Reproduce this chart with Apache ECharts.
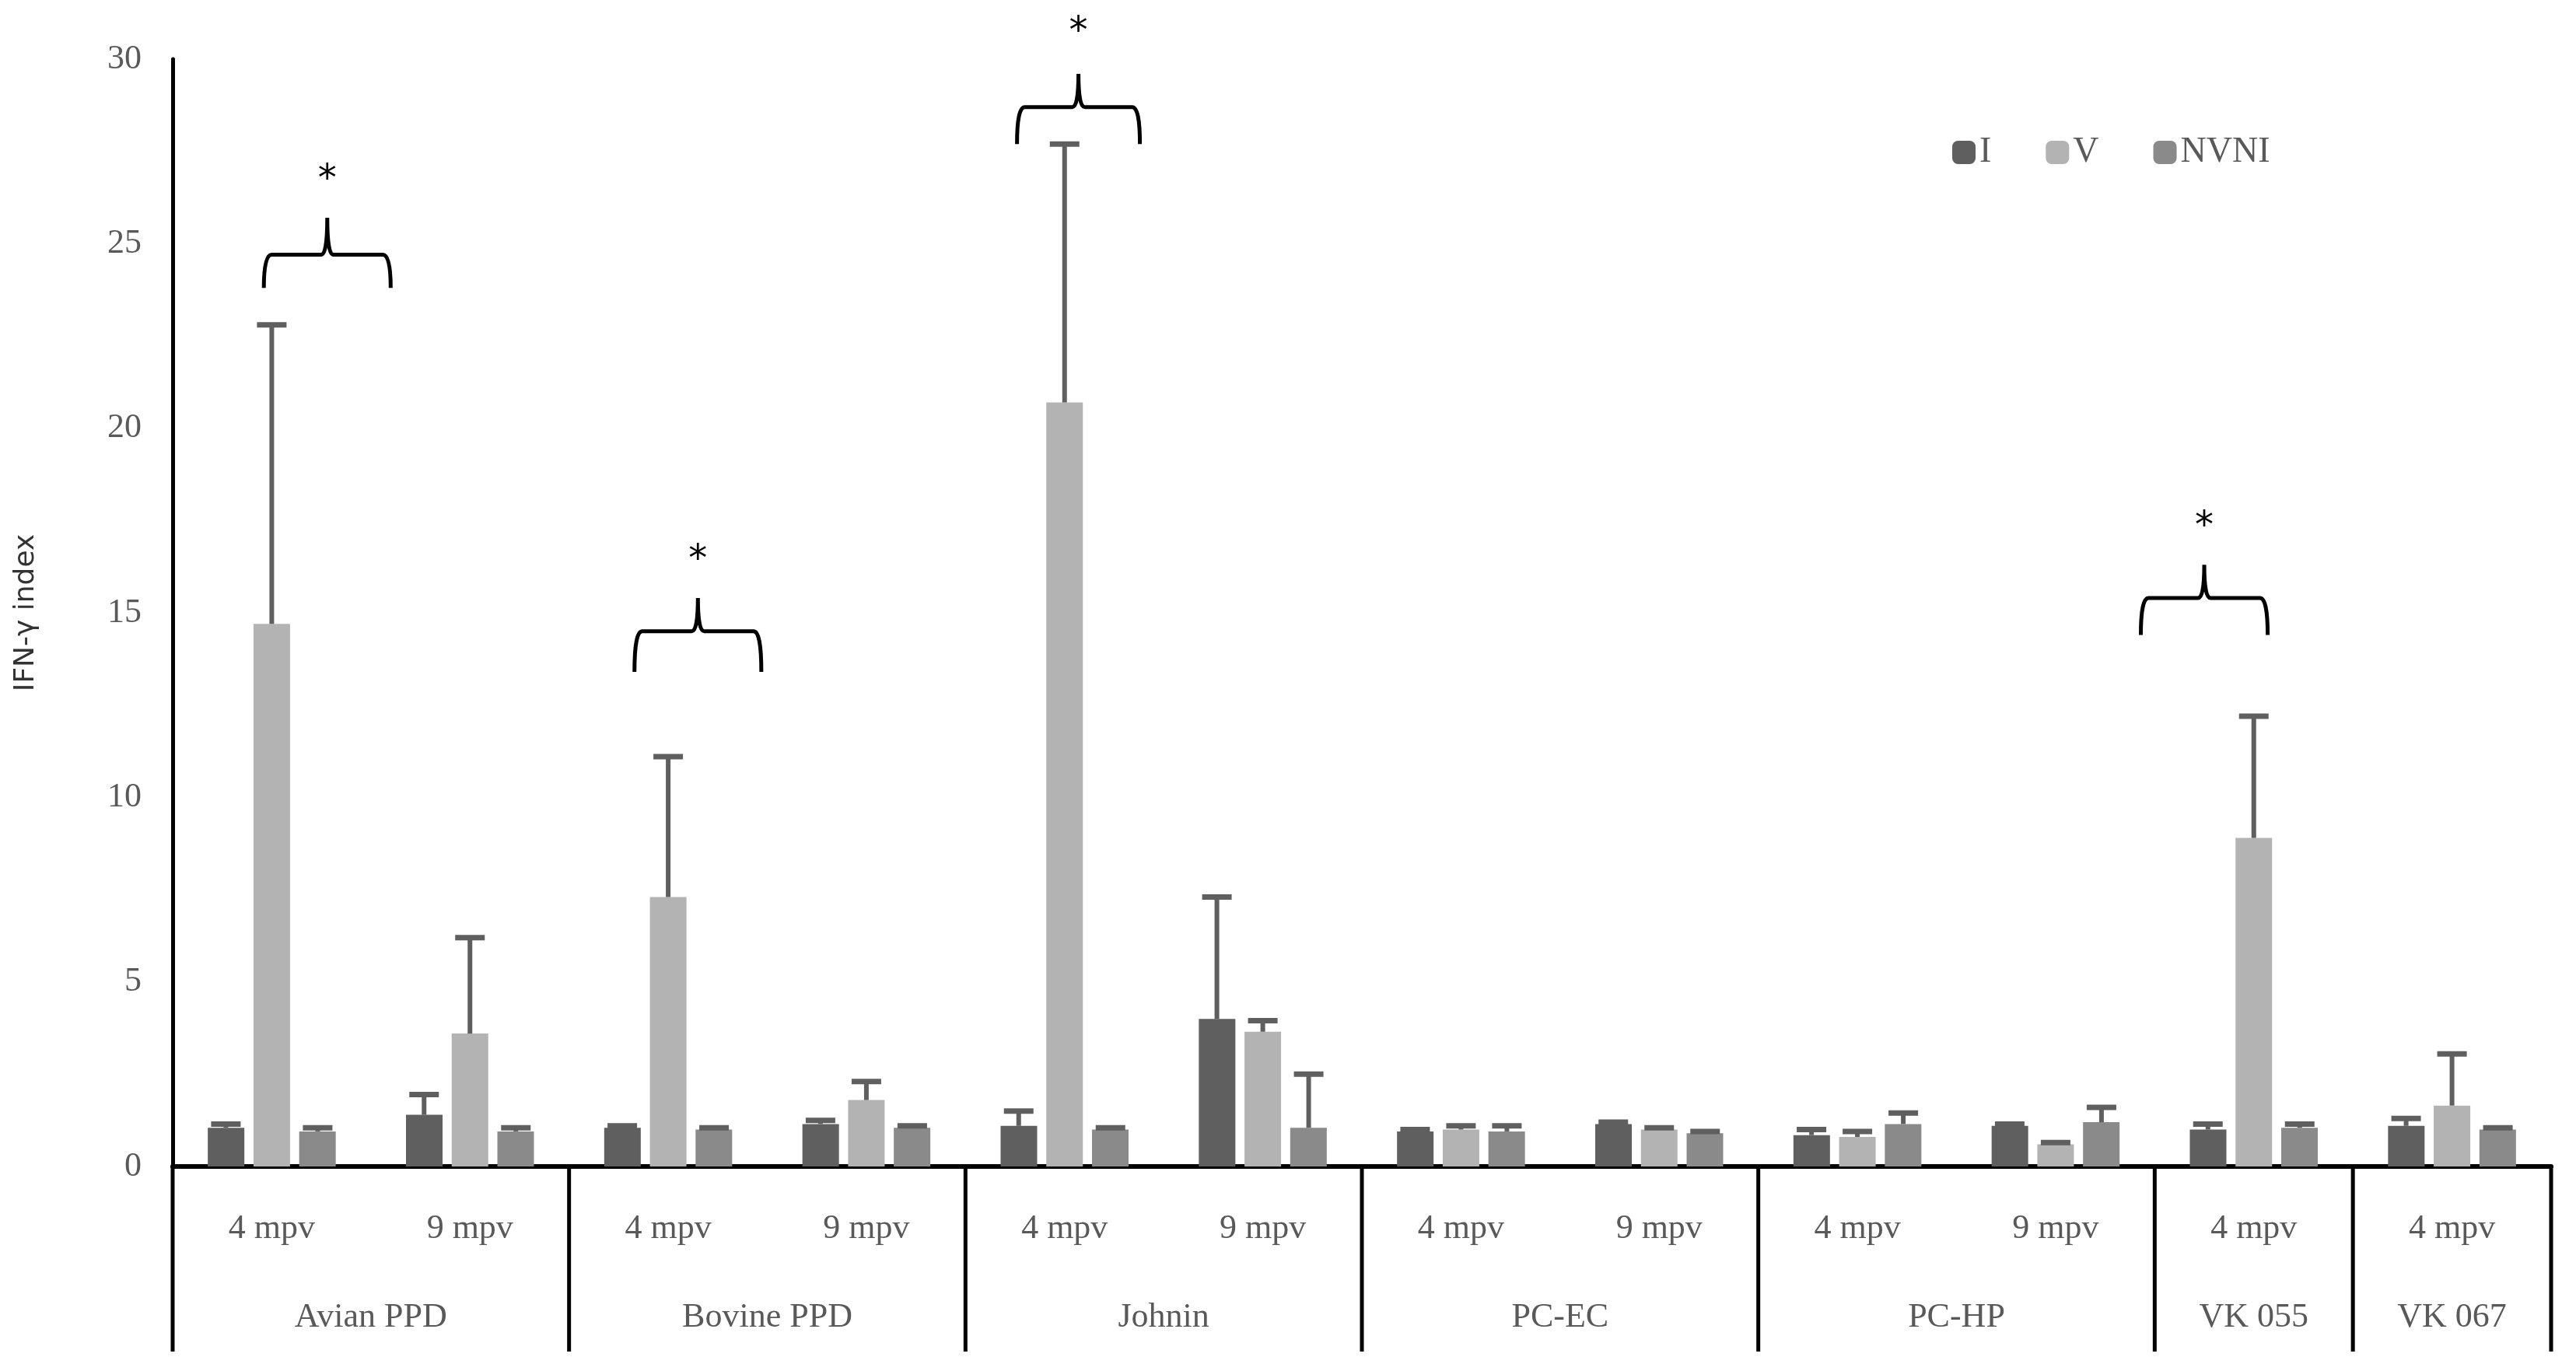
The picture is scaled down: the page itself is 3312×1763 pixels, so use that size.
<!DOCTYPE html>
<html>
<head>
<meta charset="utf-8">
<script src="https://cdn.jsdelivr.net/npm/echarts@6/dist/echarts.min.js"></script>
<style>html,body{margin:0;padding:0;background:#fff}#mybox{width:3312px;height:1763px}</style>
</head>
<body>
<div id="mybox"></div>
<script>
// data
var timepoints = ['4 mpv','9 mpv','4 mpv','9 mpv','4 mpv','9 mpv','4 mpv','9 mpv','4 mpv','9 mpv','4 mpv','4 mpv'];
var groupNames = ['Avian PPD','Bovine PPD','Johnin','PC-EC','PC-HP','VK 055','VK 067'];
var groupCenters = [1, 3, 5, 7, 9, 10.5, 11.5];
var groupBounds = [0, 2, 4, 6, 8, 10, 11, 12];

var valI    = [1.05, 1.4, 1.05, 1.15, 1.1, 4.0, 0.95, 1.15, 0.85, 1.1, 1.0, 1.1];
var errI    = [1.15, 1.95, 1.1, 1.25, 1.5, 7.3, 1.0, 1.2, 1.0, 1.15, 1.15, 1.3];
var valV    = [14.7, 3.6, 7.3, 1.8, 20.7, 3.65, 1.0, 1.0, 0.8, 0.6, 8.9, 1.65];
var errV    = [22.8, 6.2, 11.1, 2.3, 27.7, 3.95, 1.1, 1.05, 0.95, 0.65, 12.2, 3.05];
var valN    = [0.95, 0.95, 1.0, 1.05, 1.0, 1.05, 0.95, 0.9, 1.15, 1.2, 1.05, 1.0];
var errN    = [1.05, 1.05, 1.05, 1.1, 1.05, 2.5, 1.1, 0.95, 1.45, 1.6, 1.15, 1.05];

// significance brackets (x in category units on value axis)
var brLeft  = [0.46, 2.33, 4.26, 9.93];
var brRight = [1.10, 2.97, 4.88, 10.57];
var brBase  = [23.8, 13.4, 27.7, 14.4];
var brMid   = [24.7, 14.5, 28.7, 15.4];
var brTip   = [25.7, 15.4, 29.6, 16.3];
var brStar  = [26.7, 16.4, 30.7, 17.3];

var colors = ['#5f5f5f', '#b3b3b3', '#8a8a8a'];
var barW = 47, barGapPx = 12;
var serif = 'Liberation Serif';

var mycharts = echarts.init(document.getElementById('mybox'));

function errSeries(vals, errs, idx) {
    return {
        type: 'custom',
        xAxisIndex: 0,
        z: 3,
        data: vals.map(function (v, i) { return [i, v, errs[i]]; }),
        renderItem: function (params, api) {
            var p0 = api.coord([api.value(0), api.value(1)]);
            var p1 = api.coord([api.value(0), api.value(2)]);
            var x = p0[0] + (idx - 1) * (barW + barGapPx);
            return {
                type: 'group',
                children: [
                    { type: 'line', shape: { x1: x, y1: p0[1], x2: x, y2: p1[1] }, style: { stroke: '#5f5f5f', lineWidth: 6 } },
                    { type: 'line', shape: { x1: x - 19, y1: p1[1], x2: x + 19, y2: p1[1] }, style: { stroke: '#5f5f5f', lineWidth: 7 } }
                ]
            };
        }
    };
}

var optionObj = {
    animation: false,
    textStyle: { fontFamily: serif },
    grid: { left: 222, right: 32, top: 76, bottom: 263 },
    legend: {
        left: 2505, top: 168,
        itemWidth: 30, itemHeight: 30, itemGap: 70,
        textStyle: { fontSize: 46, color: '#595959', fontFamily: serif },
        data: ['I', 'V', 'NVNI']
    },
    xAxis: [
        {
            type: 'category',
            data: timepoints,
            axisLine: { lineStyle: { color: '#000', width: 6 } },
            axisTick: { show: false },
            axisLabel: { fontSize: 44, color: '#595959', margin: 58, fontFamily: serif }
        },
        {
            type: 'value', min: 0, max: 12, interval: 0.5,
            position: 'bottom',
            axisLine: { show: false }, axisTick: { show: false }, splitLine: { show: false },
            axisLabel: {
                fontSize: 44, color: '#595959', margin: 172, fontFamily: serif,
                showMinLabel: true, showMaxLabel: true,
                formatter: function (v) {
                    var k = groupCenters.indexOf(v);
                    return k >= 0 ? groupNames[k] : '';
                }
            }
        }
    ],
    yAxis: {
        type: 'value', min: 0, max: 30, interval: 5,
        name: 'IFN-γ index', nameLocation: 'middle', nameGap: 170,
        nameTextStyle: { fontSize: 36, color: '#333', fontFamily: 'DejaVu Sans' },
        axisLine: { show: true, lineStyle: { color: '#000', width: 5 } },
        axisTick: { show: false },
        splitLine: { show: false },
        axisLabel: { fontSize: 44, color: '#595959', margin: 40, fontFamily: serif }
    },
    series: [
        { name: 'I', type: 'bar', data: valI, barWidth: barW, barGap: '25%', itemStyle: { color: colors[0] } },
        { name: 'V', type: 'bar', data: valV, barWidth: barW, barGap: '25%', itemStyle: { color: colors[1] } },
        { name: 'NVNI', type: 'bar', data: valN, barWidth: barW, barGap: '25%', itemStyle: { color: colors[2] } },
        errSeries(valI, errI, 0),
        errSeries(valV, errV, 1),
        errSeries(valN, errN, 2),
        {
            // table separators below the axis
            type: 'custom', xAxisIndex: 1, clip: false, silent: true,
            data: groupBounds.map(function (b) { return [b, 0]; }),
            renderItem: function (params, api) {
                var p = api.coord([api.value(0), 0]);
                return { type: 'line', shape: { x1: p[0], y1: p[1], x2: p[0], y2: p[1] + 238 }, style: { stroke: '#000', lineWidth: 5 } };
            }
        },
        {
            // significance brackets
            type: 'custom', xAxisIndex: 1, clip: false, silent: true,
            data: brLeft.map(function (l, i) { return [l, brRight[i], brBase[i], brMid[i], brTip[i], brStar[i]]; }),
            renderItem: function (params, api) {
                var a = api.coord([api.value(0), api.value(2)]);
                var b = api.coord([api.value(1), api.value(3)]);
                var t = api.coord([(api.value(0) + api.value(1)) / 2, api.value(4)]);
                var s = api.coord([0, api.value(5)]);
                var xl = a[0], xr = b[0], yb = a[1], ym = b[1], xm = t[0], yt = t[1];
                var path = 'M' + xl + ' ' + yb + ' Q' + xl + ' ' + ym + ' ' + (xl + 10) + ' ' + ym +
                    ' L' + (xm - 8) + ' ' + ym + ' Q' + xm + ' ' + ym + ' ' + xm + ' ' + yt +
                    ' Q' + xm + ' ' + ym + ' ' + (xm + 8) + ' ' + ym +
                    ' L' + (xr - 10) + ' ' + ym + ' Q' + xr + ' ' + ym + ' ' + xr + ' ' + yb;
                return {
                    type: 'group',
                    children: [
                        { type: 'path', shape: { pathData: path }, style: { stroke: '#000', lineWidth: 5, fill: null } },
                        { type: 'text', x: xm, y: s[1], style: { text: '*', fontSize: 48, fontFamily: 'DejaVu Sans', fill: '#000', align: 'center', verticalAlign: 'middle' } }
                    ]
                };
            }
        }
    ]
};

mycharts.setOption(optionObj);
</script>
</body>
</html>
